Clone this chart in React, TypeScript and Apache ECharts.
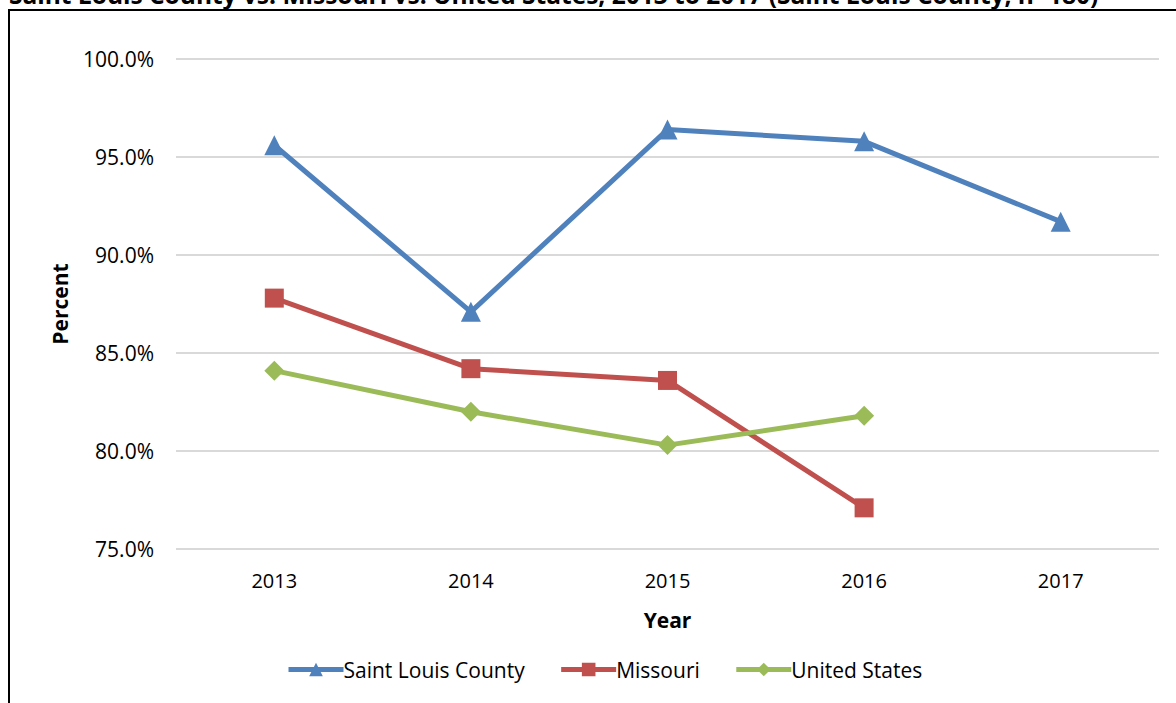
import React, { useEffect, useRef } from "react";
import * as echarts from "echarts";

const years = ["2013", "2014", "2015", "2016", "2017"];
const stlCounty = [95.6, 87.1, 96.4, 95.8, 91.7];
const missouri = [87.8, 84.2, 83.6, 77.1, null];
const unitedStates = [84.1, 82.0, 80.3, 81.8, null];
const seriesNames = ["Saint Louis County", "Missouri", "United States"];
const titleText =
  "Saint Louis County vs. Missouri vs. United States, 2013 to 2017 (Saint Louis County, n=180)";

const FONT = "'Open Sans', 'Liberation Sans', sans-serif";

export default function App() {
  const ref = useRef<HTMLDivElement>(null);
  useEffect(() => {
    if (!ref.current) return;
    const chart = echarts.init(ref.current, null, { renderer: "svg" });
    chart.setOption({
      animation: false,
      backgroundColor: "#ffffff",
      textStyle: { fontFamily: FONT },
      graphic: [
        {
          type: "rect",
          shape: { x: 9, y: 10, width: 1300, height: 800 },
          style: { fill: "none", stroke: "#000", lineWidth: 2 },
          z: -1,
        },
        {
          type: "text",
          x: 9,
          y: 7,
          style: {
            text: titleText,
            font: "bold 24.5px " + FONT,
            fill: "#000",
            textVerticalAlign: "bottom",
          },
        },
      ],
      grid: { left: 176, right: 17, top: 59, height: 490 },
      legend: {
        left: 281,
        top: 654,
        itemWidth: 55,
        itemHeight: 17,
        itemGap: 34,
        lineStyle: { width: 5 },
        textStyle: { fontFamily: FONT, fontSize: 21, color: "#000", padding: [0, 0, 0, -5] },
        data: seriesNames,
      },
      xAxis: {
        type: "category",
        data: years,
        boundaryGap: true,
        axisLine: { show: false },
        axisTick: { show: false },
        axisLabel: { color: "#000", fontSize: 20, fontFamily: FONT, margin: 21 },
        name: "Year",
        nameLocation: "middle",
        nameGap: 60,
        nameTextStyle: { color: "#000", fontSize: 21, fontWeight: "bold", fontFamily: FONT },
      },
      yAxis: {
        type: "value",
        min: 75,
        max: 100,
        interval: 5,
        axisLine: { show: false },
        axisTick: { show: false },
        splitLine: { lineStyle: { color: "#D9D9D9", width: 2 } },
        axisLabel: {
          color: "#000",
          fontSize: 21,
          fontFamily: FONT,
          margin: 22,
          formatter: (v: number) => v.toFixed(1) + "%",
        },
        name: "Percent",
        nameLocation: "middle",
        nameGap: 106,
        nameTextStyle: { color: "#000", fontSize: 21, fontWeight: "bold", fontFamily: FONT },
      },
      series: [
        {
          name: seriesNames[0],
          type: "line",
          data: stlCounty,
          symbol: "triangle",
          symbolSize: 20,
          lineStyle: { color: "#4F81BD", width: 5 },
          itemStyle: { color: "#4F81BD" },
        },
        {
          name: seriesNames[1],
          type: "line",
          data: missouri,
          symbol: "rect",
          symbolSize: 19,
          lineStyle: { color: "#C0504D", width: 5 },
          itemStyle: { color: "#C0504D" },
        },
        {
          name: seriesNames[2],
          type: "line",
          data: unitedStates,
          symbol: "diamond",
          symbolSize: 20,
          lineStyle: { color: "#9BBB59", width: 5 },
          itemStyle: { color: "#9BBB59" },
        },
      ],
    });
    return () => chart.dispose();
  }, []);
  return (
    <div
      ref={ref}
      style={{ position: "fixed", left: 0, top: 0, width: 1176, height: 703 }}
    />
  );
}
